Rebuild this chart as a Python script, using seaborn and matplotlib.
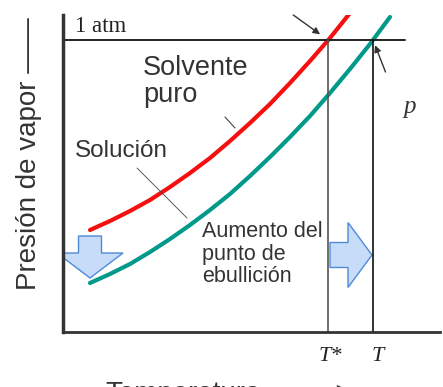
import numpy as np
import pandas as pd
import matplotlib
matplotlib.use('Agg')
import matplotlib.pyplot as plt
from matplotlib.patches import FancyArrow, FancyArrowPatch
import seaborn as sns

# curves (arbitrary units: temperature, vapour pressure)
red_T = [27, 47, 67, 87, 107, 127, 147, 167, 187, 207, 227, 247, 267, 287]
red_P = [102, 111, 121, 132, 145, 159, 174, 191, 209, 228, 249, 271, 294, 319]
green_T = [27, 47, 67, 87, 107, 127, 147, 167, 187, 207, 227, 247, 267, 287, 307, 327]
green_P = [49, 58, 68, 80, 93, 107, 122, 138, 156, 175, 195, 216, 239, 263, 288, 315]

P_atm = 292
T_star = 265
T_boil = 310

sns.set_theme(style='white')
plt.rcParams['font.family'] = ['Liberation Sans', 'DejaVu Sans']

df = pd.concat([
    pd.DataFrame({'T': red_T, 'P': red_P, 'serie': 'Solvente puro'}),
    pd.DataFrame({'T': green_T, 'P': green_P, 'serie': 'Solución'}),
])

fig = plt.figure(figsize=(4.43, 3.87), dpi=100)
ax = fig.add_axes([63/443, 55/387, 377/443, 317/387])

sns.lineplot(data=df, x='T', y='P', hue='serie', palette=['#f50f0f', '#00998a'],
             linewidth=3, legend=False, ax=ax, sort=False)

ax.set_xlim(0, 377)
ax.set_ylim(0, 317)
ax.set_xticks([])
ax.set_yticks([])
ax.set_xlabel('')
ax.set_ylabel('')
for s in ['top', 'right']:
    ax.spines[s].set_visible(False)
ax.spines['left'].set_linewidth(2.5)
ax.spines['left'].set_color('#333333')
ax.spines['bottom'].set_linewidth(2)
ax.spines['bottom'].set_color('#333333')

# 1 atm line and the two boiling points
ax.plot([0, T_boil + 32], [P_atm, P_atm], color='#222222', lw=1.4)
ax.plot([T_star, T_star], [0, P_atm], color='#555555', lw=1.2)
ax.plot([T_boil, T_boil], [0, P_atm], color='#111111', lw=1.2)

# block arrows
ax.add_patch(FancyArrow(red_T[0], red_P[0] - 6, 0, green_P[0] - red_P[0] + 11,
                        width=23, head_width=66, head_length=25,
                        length_includes_head=True, fc='#c6dcf8', ec='#4f8ad8', lw=1))
ax.add_patch(FancyArrow(T_star + 2, 77, T_boil - T_star - 3, 0,
                        width=25, head_width=65, head_length=24,
                        length_includes_head=True, fc='#c6dcf8', ec='#4f8ad8', lw=1))

# pointer lines / arrows
ax.annotate('', xy=(T_star, P_atm), xytext=(-25, 18), textcoords='offset points',
            arrowprops=dict(arrowstyle='-|>', color='#333333', lw=1, shrinkA=0, shrinkB=7,
                            mutation_scale=10))
ax.annotate('', xy=(T_boil, P_atm), xytext=(9, -23), textcoords='offset points',
            arrowprops=dict(arrowstyle='-|>', color='#333333', lw=1, shrinkA=0, shrinkB=4,
                            mutation_scale=10))
ax.plot([162, 172], [215, 204], color='#444444', lw=0.8)
ax.plot([74, 124], [164, 114], color='#444444', lw=0.6)

# labels
ax.text(12, 300, '1 atm', family='Liberation Serif', fontsize=16.5, color='#222222', va='baseline')
ax.text(80, 277, 'Solvente\npuro', fontsize=19.5, color='#333333', va='top', linespacing=1.05)
ax.text(12, 175, 'Solución', fontsize=17.5, color='#333333', va='baseline')
ax.text(139, 111, 'Aumento del\npunto de\nebullición', fontsize=15.5, color='#333333',
        va='top', linespacing=1.1)
ax.text(340, 219, 'p', family='Liberation Serif', style='italic', fontsize=18,
        color='#333333', va='baseline')
ax.text(T_star + 2, -15, 'T*', family='Liberation Serif', style='italic', fontsize=16,
        color='#222222', va='top', ha='center', clip_on=False)
ax.text(T_boil + 5, -15, 'T', family='Liberation Serif', style='italic', fontsize=16,
        color='#222222', va='top', ha='center', clip_on=False)

fig.text(29/443, 1 - 290/387, 'Presión de vapor ——', rotation=90, rotation_mode='anchor',
         ha='left', va='center', fontsize=20, color='#333333')
fig.text(105/443, 1 - 381/387, 'Temperatura', fontsize=20, color='#333333', va='top')
fig.patches.append(FancyArrowPatch(
    (300/443, 1 - 393/387), (356/443, 1 - 393/387), transform=fig.transFigure,
    arrowstyle='->', mutation_scale=25, color='#333333', lw=1.2))

fig.savefig('out.png', dpi=100, facecolor='white')
